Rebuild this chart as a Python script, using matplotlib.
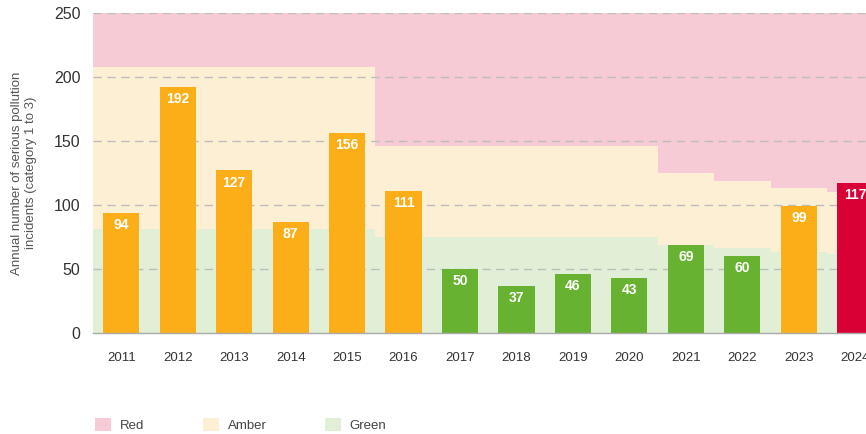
import matplotlib
matplotlib.use("Agg")
import matplotlib.pyplot as plt
from matplotlib.patches import Patch

plt.rcParams['font.family'] = ['Liberation Sans', 'DejaVu Sans']

years = ['2011', '2012', '2013', '2014', '2015', '2016', '2017', '2018', '2019',
         '2020', '2021', '2022', '2023', '2024']
incidents = [94, 192, 127, 87, 156, 111, 50, 37, 46, 43, 69, 60, 99, 117]
rating = ['amber', 'amber', 'amber', 'amber', 'amber', 'amber', 'green', 'green',
          'green', 'green', 'green', 'green', 'amber', 'red']
green_upper = [81, 81, 81, 81, 81, 75, 75, 75, 75, 75, 68.5, 66.5, 63, 61.5]
amber_upper = [208, 208, 208, 208, 208, 146, 146, 146, 146, 146, 125, 119, 113, 110]
y_top = 250
yticks = [0, 50, 100, 150, 200, 250]

bar_colors = {'amber': '#fbae17', 'green': '#67b230', 'red': '#d80035'}
band_red = '#f7cbd5'
band_amber = '#fdefd3'
band_green = '#e1efd6'

fig = plt.figure(figsize=(8.66, 4.34), dpi=100)
ax = fig.add_axes([93 / 866, (434 - 333) / 434, 1 - 93 / 866, (333 - 13) / 434])

x = list(range(len(years)))
# background bands
ax.bar(x, green_upper, width=1.0, color=band_green, zorder=0, linewidth=0)
ax.bar(x, [a - g for a, g in zip(amber_upper, green_upper)], bottom=green_upper,
       width=1.0, color=band_amber, zorder=0, linewidth=0)
ax.bar(x, [y_top - a for a in amber_upper], bottom=amber_upper,
       width=1.0, color=band_red, zorder=0, linewidth=0)

for yv in yticks[1:]:
    ax.axhline(yv, color='#bdbdbd', linestyle=(0, (6, 4)), linewidth=1.0, zorder=1)

bars = ax.bar(x, incidents, width=0.64, color=[bar_colors[r] for r in rating],
              zorder=2, linewidth=0)
for xi, v in zip(x, incidents):
    ax.text(xi, v - 4, str(v), ha='center', va='top', color='white',
            fontsize=10, fontweight='bold', zorder=3)

ax.set_xlim(-0.5, 13.19)
ax.set_ylim(0, y_top)
ax.set_yticks(yticks)
ax.set_yticklabels([str(t) for t in yticks], fontsize=11.5, color='#333333')
ax.set_xticks(x)
ax.set_xticklabels(years, fontsize=9.5, color='#333333')
ax.tick_params(axis='y', length=0, pad=9)
ax.tick_params(axis='x', length=0, pad=14)
for s in ['top', 'right', 'left']:
    ax.spines[s].set_visible(False)
ax.spines['bottom'].set_color('#aaaaaa')
ax.spines['bottom'].set_linewidth(1.0)
ax.spines['bottom'].set_zorder(4)

ax.set_ylabel('Annual number of serious pollution\nincidents (category 1 to 3)',
              fontsize=9.5, color='#555555', labelpad=12, linespacing=1.2)

handles = [Patch(facecolor=band_red, edgecolor='none', label='Red'),
           Patch(facecolor=band_amber, edgecolor='none', label='Amber'),
           Patch(facecolor=band_green, edgecolor='none', label='Green')]
leg = fig.legend(handles=handles, loc='center left', bbox_to_anchor=(90 / 866, 1 - 425 / 434),
                 ncol=3, frameon=False, fontsize=9.5, handlelength=1.2, handleheight=1.2,
                 handletextpad=0.7, columnspacing=4.4, borderaxespad=0)
for t in leg.get_texts():
    t.set_color('#444444')

fig.savefig('out.png', dpi=100)
